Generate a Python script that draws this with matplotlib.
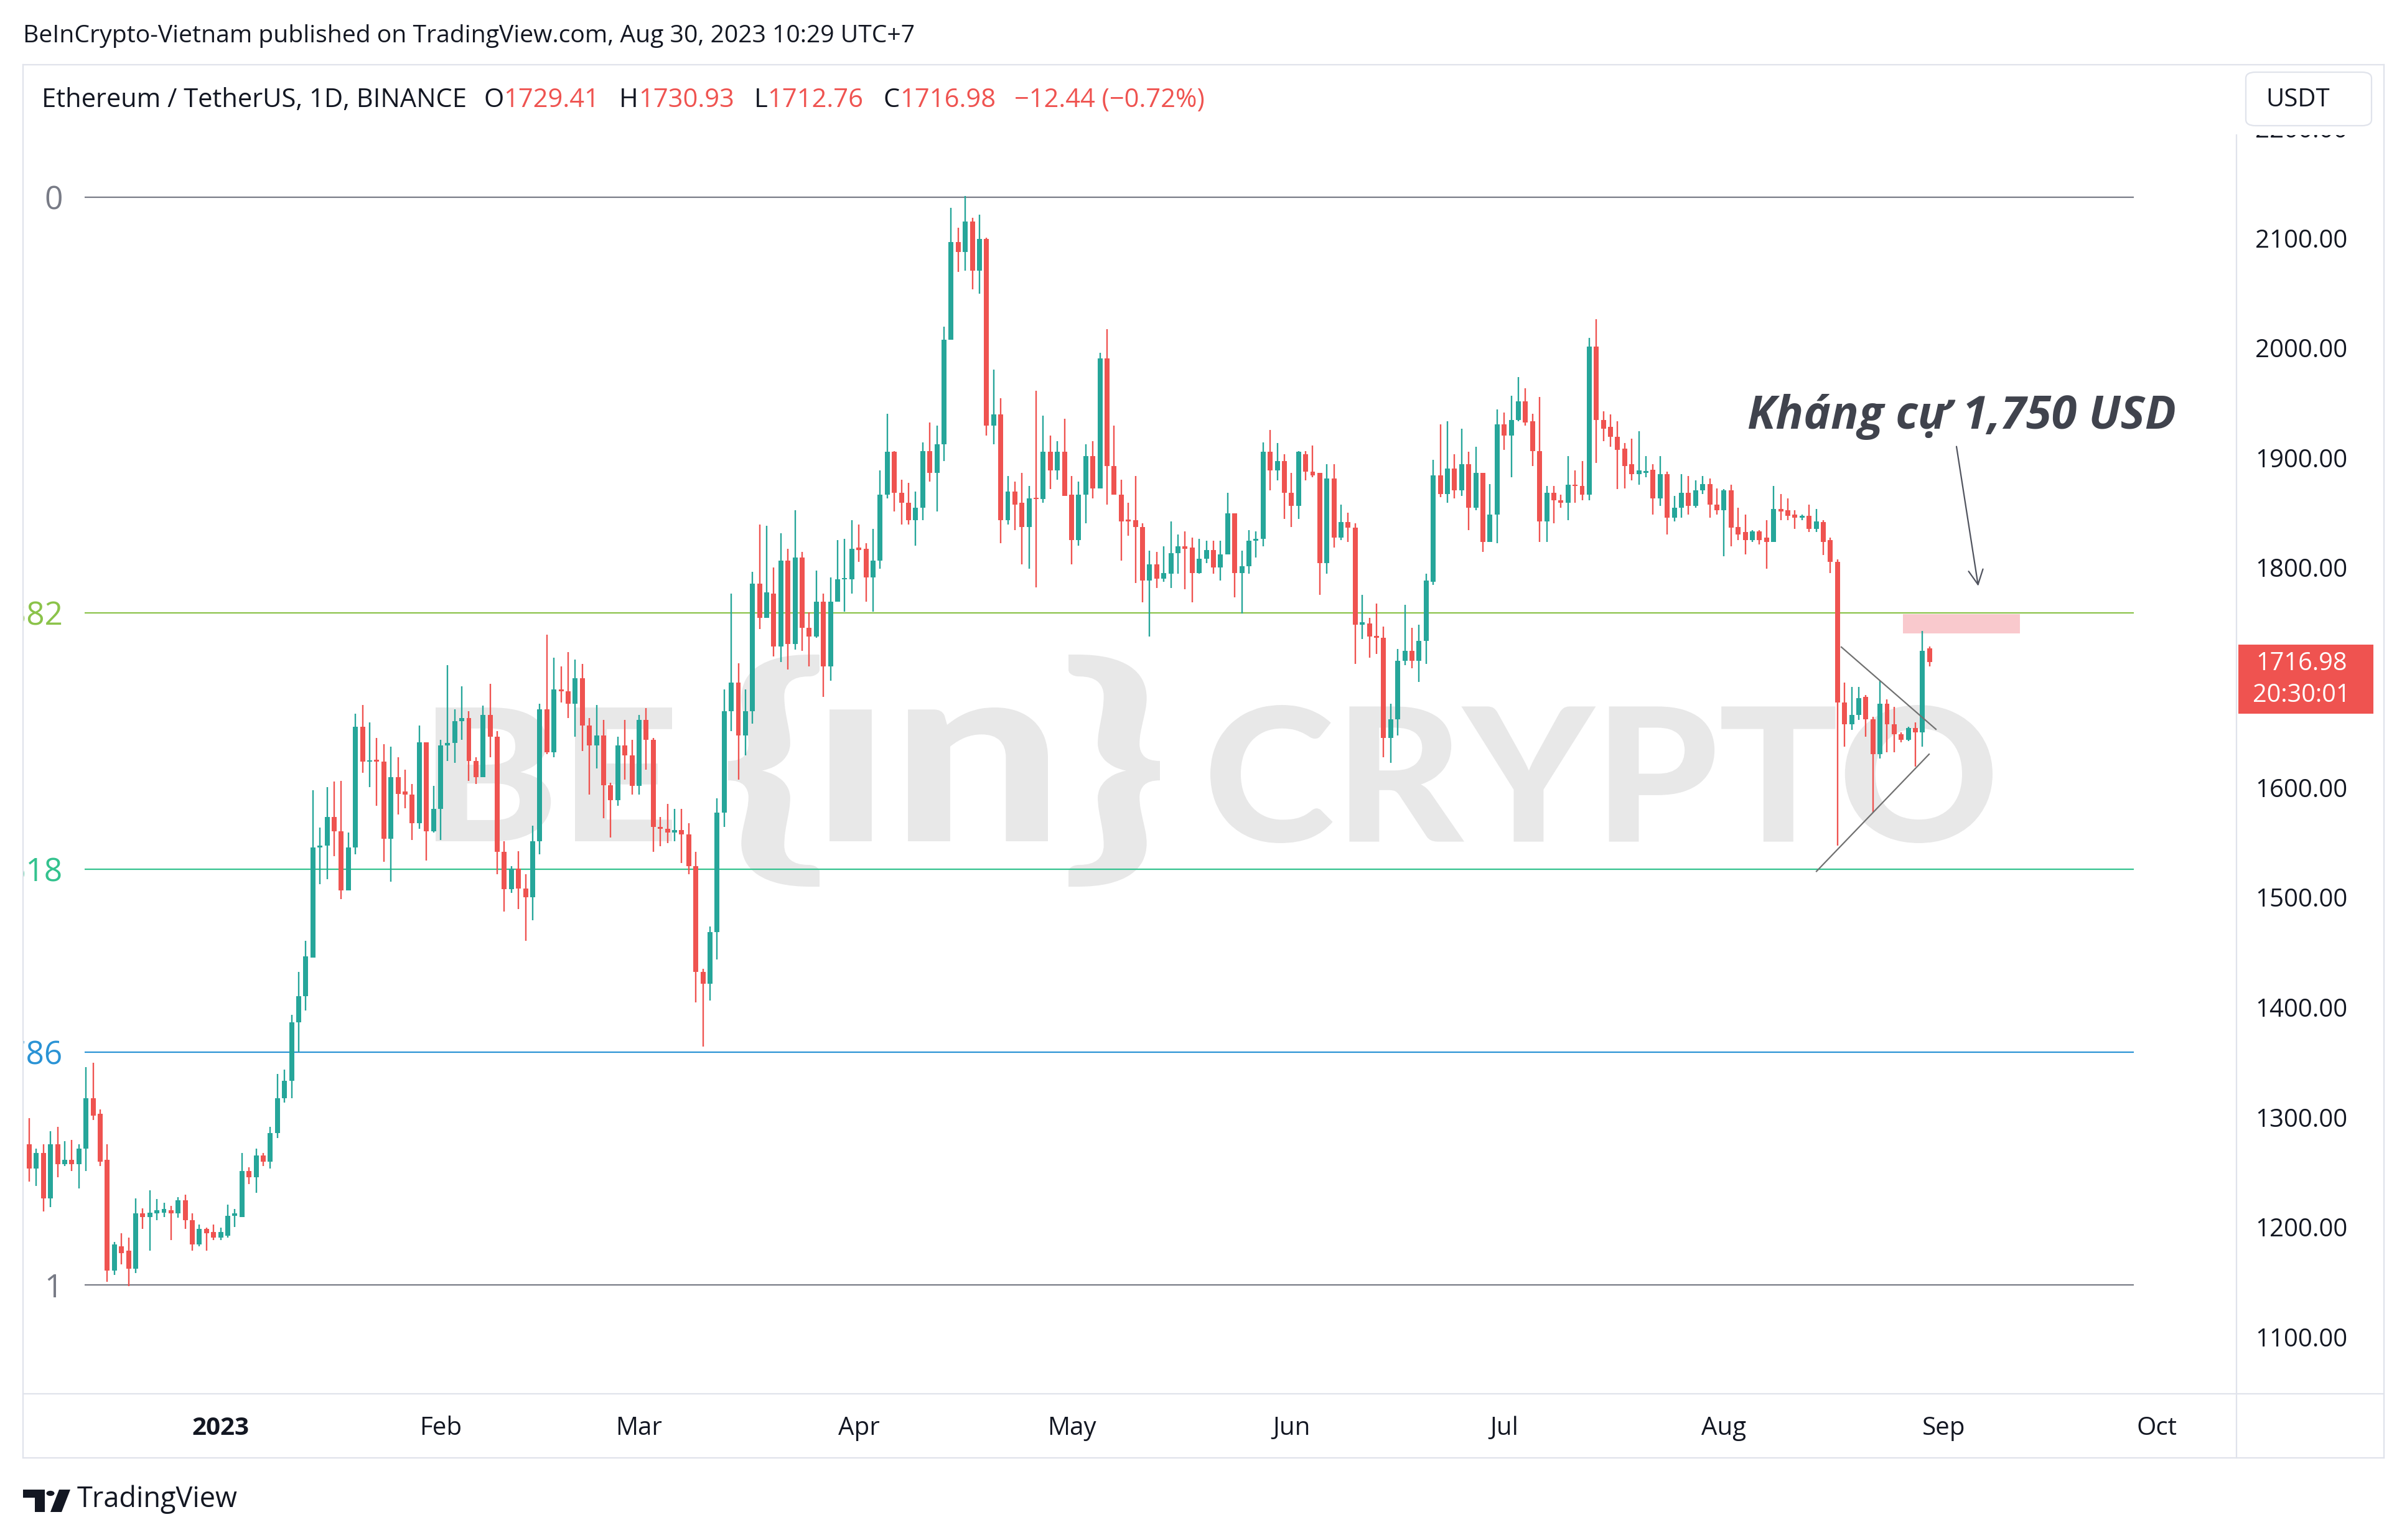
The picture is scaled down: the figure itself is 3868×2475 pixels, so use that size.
import numpy as np
import pandas as pd
import matplotlib
matplotlib.use("Agg")
import matplotlib.pyplot as plt
import matplotlib.transforms as mtransforms
from matplotlib.patches import Rectangle, FancyBboxPatch, PathPatch, Circle, Polygon
from matplotlib.textpath import TextPath
from matplotlib.font_manager import FontProperties

# ---------------------------------------------------------------- data
start_date = "2022-12-05"
opens = [1278,1256,1270,1229,1278,1260,1264,1260,1274,1320,
         1306,1264,1163,1185,1181,1165,1215,1212,1215,1216,
         1218,1215,1227,1209,1187,1201,1198,1193,1195,1213,
         1212,1254,1248,1268,1262,1288,1320,1336,1389,1413,
         1448,1548,1550,1576,1563,1509,1548,1658,1626,1628,
         1626,1556,1612,1599,1596,1570,1644,1563,1583,1641,
         1643,1663,1666,1627,1612,1669,1649,1544,1510,1529,
         1511,1503,1554,1674,1635,1692,1690,1679,1702,1659,
         1641,1650,1605,1591,1641,1632,1604,1664,1646,1567,
         1565,1562,1564,1560,1531,1435,1424,1471,1580,1672,
         1698,1650,1672,1788,1757,1779,1731,1809,1733,1812,
         1748,1740,1772,1713,1772,1792,1792,1821,1820,1794,
         1809,1869,1908,1871,1862,1846,1857,1909,1889,1915,
         2010,2099,2090,2118,2073,2102,1932,1942,1846,1872,
         1862,1840,1866,1865,1908,1891,1908,1869,1828,1869,
         1904,1875,1993,1895,1869,1846,1846,1840,1791,1806,
         1793,1797,1816,1822,1821,1798,1811,1819,1803,1815,
         1852,1798,1804,1827,1829,1908,1891,1900,1871,1859,
         1906,1890,1889,1807,1884,1830,1844,1839,1751,1752,
         1740,1739,1648,1665,1718,1727,1718,1736,1790,1887,
         1870,1893,1873,1897,1857,1889,1826,1851,1933,1923,
         1937,1954,1936,1909,1845,1871,1864,1862,1878,1877,
         1869,2004,1937,1931,1922,1911,1897,1888,1889,1892,
         1866,1888,1848,1857,1871,1859,1873,1879,1860,1855,
         1873,1840,1835,1828,1836,1830,1826,1856,1855,1851,
         1848,1850,1838,1844,1828,1808,1680,1660,1669,1685,
         1665,1633,1679,1660,1651,1646,1657,1653,1729.41]
highs = [1302,1274,1278,1290,1294,1281,1282,1278,1348,1352,
         1310,1278,1189,1197,1193,1229,1220,1236,1228,1225,
         1222,1230,1232,1215,1205,1202,1205,1202,1223,1219,
         1270,1257,1274,1270,1294,1342,1346,1396,1435,1463,
         1600,1566,1603,1608,1609,1562,1670,1678,1662,1648,
         1642,1640,1630,1619,1606,1659,1644,1604,1646,1714,
         1674,1695,1672,1630,1677,1697,1654,1554,1531,1545,
         1524,1568,1679,1742,1721,1713,1726,1719,1715,1666,
         1678,1664,1607,1649,1664,1646,1669,1675,1648,1576,
         1588,1583,1583,1570,1544,1438,1476,1593,1692,1779,
         1716,1692,1799,1842,1841,1803,1834,1820,1855,1817,
         1762,1800,1779,1794,1828,1829,1846,1842,1825,1838,
         1891,1943,1909,1883,1880,1872,1917,1935,1932,2022,
         2130,2112,2141,2121,2124,2103,1983,1957,1886,1881,
         1889,1877,1964,1941,1923,1918,1938,1886,1881,1915,
         1918,1998,2020,1932,1883,1862,1886,1843,1818,1817,
         1822,1845,1833,1836,1830,1829,1827,1827,1827,1871,
         1852,1818,1837,1836,1917,1928,1916,1906,1889,1909,
         1909,1914,1889,1897,1897,1860,1853,1843,1778,1757,
         1770,1749,1679,1729,1769,1748,1751,1797,1901,1933,
         1936,1906,1929,1908,1913,1889,1879,1947,1944,1959,
         1976,1966,1943,1958,1877,1877,1869,1904,1891,1900,
         2012,2029,1945,1942,1936,1916,1920,1927,1904,1897,
         1904,1890,1868,1888,1886,1882,1886,1884,1875,1874,
         1878,1857,1851,1837,1837,1846,1877,1870,1866,1855,
         1851,1860,1856,1846,1830,1810,1698,1694,1694,1687,
         1667,1700,1683,1676,1653,1658,1662,1745,1730.93]
lows = [1244,1240,1217,1221,1248,1258,1254,1238,1254,1300,
        1258,1153,1159,1169,1149,1161,1201,1181,1209,1212,
        1191,1211,1201,1181,1185,1181,1191,1191,1193,1203,
        1212,1242,1234,1258,1256,1284,1316,1320,1362,1400,
        1448,1515,1519,1540,1501,1509,1542,1616,1603,1586,
        1535,1517,1578,1584,1555,1565,1536,1562,1555,1627,
        1625,1646,1609,1606,1612,1630,1524,1490,1507,1492,
        1463,1482,1542,1633,1630,1680,1666,1649,1636,1596,
        1620,1575,1557,1586,1610,1596,1596,1619,1544,1549,
        1552,1554,1534,1524,1407,1367,1409,1446,1567,1654,
        1610,1632,1661,1747,1757,1722,1717,1710,1728,1727,
        1713,1739,1685,1700,1772,1763,1779,1808,1772,1763,
        1802,1866,1854,1842,1842,1823,1846,1881,1854,1900,
        2010,2072,2073,2056,2052,1923,1915,1825,1842,1837,
        1806,1802,1785,1862,1874,1883,1868,1806,1823,1843,
        1866,1875,1860,1869,1809,1832,1789,1771,1740,1784,
        1790,1784,1797,1783,1771,1797,1807,1797,1791,1815,
        1776,1761,1797,1812,1822,1873,1882,1847,1840,1847,
        1882,1885,1778,1797,1821,1828,1826,1715,1738,1721,
        1724,1630,1625,1650,1714,1711,1699,1715,1787,1867,
        1862,1866,1868,1837,1855,1817,1826,1825,1910,1885,
        1936,1932,1895,1826,1826,1843,1857,1846,1862,1864,
        1864,1898,1918,1913,1874,1875,1882,1878,1885,1851,
        1859,1833,1845,1848,1851,1857,1870,1848,1851,1813,
        1822,1828,1815,1826,1824,1802,1826,1846,1846,1838,
        1846,1835,1835,1814,1798,1550,1640,1655,1664,1649,
        1580,1629,1635,1635,1644,1645,1622,1640,1712.76]
closes = [1256,1270,1229,1278,1260,1264,1260,1274,1320,1304,
          1262,1163,1187,1179,1165,1215,1212,1216,1218,1219,
          1215,1227,1209,1187,1201,1197,1193,1198,1213,1215,
          1254,1248,1268,1262,1288,1320,1336,1389,1413,1449,
          1548,1550,1576,1563,1509,1548,1658,1626,1627,1626,
          1556,1612,1597,1596,1570,1644,1563,1583,1641,1643,
          1663,1666,1627,1612,1669,1649,1544,1510,1529,1511,
          1503,1554,1674,1635,1692,1690,1679,1702,1659,1641,
          1650,1605,1591,1641,1632,1604,1664,1646,1567,1565,
          1562,1564,1560,1531,1435,1424,1471,1580,1672,1698,
          1650,1672,1788,1757,1780,1731,1809,1733,1812,1748,
          1740,1772,1713,1772,1792,1793,1820,1819,1794,1809,
          1869,1908,1871,1862,1846,1857,1909,1889,1915,2010,
          2099,2090,2118,2073,2102,1932,1942,1846,1872,1860,
          1840,1866,1865,1908,1891,1908,1868,1828,1869,1904,
          1875,1993,1895,1869,1845,1845,1840,1791,1806,1793,
          1798,1816,1822,1820,1798,1811,1819,1803,1815,1852,
          1798,1804,1827,1829,1908,1891,1900,1871,1859,1908,
          1890,1887,1807,1884,1830,1844,1839,1751,1753,1740,
          1739,1648,1665,1718,1727,1718,1736,1791,1887,1870,
          1893,1873,1897,1857,1889,1826,1851,1933,1923,1937,
          1954,1935,1909,1845,1871,1864,1862,1878,1877,1869,
          2004,1937,1929,1922,1910,1895,1888,1891,1890,1866,
          1888,1848,1857,1871,1859,1873,1879,1860,1855,1873,
          1839,1833,1828,1836,1828,1826,1856,1854,1850,1848,
          1850,1838,1845,1826,1808,1680,1660,1669,1684,1665,
          1633,1679,1660,1651,1646,1657,1653,1727,1716.98]

price_ticks = [1100, 1200, 1300, 1400, 1500, 1600, 1700, 1800, 1900, 2000, 2100, 2200]
month_starts = ["2023-01-01", "2023-02-01", "2023-03-01", "2023-04-01", "2023-05-01",
                "2023-06-01", "2023-07-01", "2023-08-01", "2023-09-01", "2023-10-01"]
month_labels = ["2023", "Feb", "Mar", "Apr", "May", "Jun", "Jul", "Aug", "Sep", "Oct"]

fib_high, fib_low = 2140.0, 1150.0
fib_levels = [0, 0.382, 0.618, 0.786, 1]
fib_labels = ["0", "0.382", "0.618", "0.786", "1"]
fib_colors = ["#787b86", "#8bc34a", "#33c28e", "#2a93d5", "#787b86"]

last_price = 1716.98
countdown = "20:30:01"
header = "BeInCrypto-Vietnam published on TradingView.com, Aug 30, 2023 10:29 UTC+7"
annot_text = "Kháng cự 1,750 USD"

# ---------------------------------------------------------------- layout helpers
W, H, DPI = 3868, 2475, 100
plt.rcParams["font.family"] = ["Open Sans", "DejaVu Sans"]
DARK = "#131722"
GREEN = "#26a69a"
RED = "#ef5350"
BORDER = "#e0e3eb"

fig = plt.figure(figsize=(W / DPI, H / DPI), dpi=DPI, facecolor="white")
renderer = fig.canvas.get_renderer()

def fx(px):
    return px / W

def fy(py):
    return 1 - py / H

# plot area (pixels): x 37..3594, y 104..2240
PL, PR, PT, PB = 37, 3594, 104, 2240
X0, DX = 47.0, 11.395          # pixel x of first candle, pixels per day
Y2100, PXU = 387.3, 1.7662     # pixel y of 2100, pixels per USD

def price_at(py):
    return 2100 - (py - Y2100) / PXU

def idx_at(px):
    return (px - X0) / DX

ax = fig.add_axes([fx(PL), fy(PB), (PR - PL) / W, (PB - PT) / H])
ax.set_xlim(idx_at(PL), idx_at(PR))
ax.set_ylim(price_at(PB), price_at(PT))
ax.axis("off")

dates = pd.date_range(start_date, periods=len(closes), freq="D")
x = np.arange(len(closes))
o = np.array(opens); h = np.array(highs); l = np.array(lows); c = np.array(closes)
up = c >= o
cols = np.where(up, GREEN, RED)

# ---------------------------------------------------------------- watermark
wm_prop = FontProperties(family=["Lato", "DejaVu Sans"], weight="black")
def fit_text_path(s, x0, y0, x1, y1, color="#e8e8e8", z=0.5):
    tp = TextPath((0, 0), s, size=100, prop=wm_prop)
    bb = tp.get_extents()
    tr = (mtransforms.Affine2D().translate(-bb.x0, -bb.y0)
          .scale((x1 - x0) / bb.width, (y1 - y0) / bb.height)
          .translate(x0, H - y1).scale(1 / W, 1 / H))
    p = tr.transform_path(tp)
    ax.add_patch(PathPatch(p, transform=fig.transFigure, facecolor=color,
                           edgecolor="none", zorder=z))

fit_text_path("BE", 700, 1137, 1080, 1352)
fit_text_path("{", 1170, 1052, 1317, 1425)
fit_text_path("ın", 1333, 1137, 1684, 1352)
fit_text_path("}", 1717, 1052, 1864, 1425)
fit_text_path("CRYPTO", 1945, 1133, 3202, 1355)

# ---------------------------------------------------------------- fib lines
fib_x0, fib_x1 = idx_at(136), idx_at(3429)
for lev, lab, col in zip(fib_levels, fib_labels, fib_colors):
    p = fib_high - lev * (fib_high - fib_low)
    ax.plot([fib_x0, fib_x1], [p, p], color=col, lw=1.6, zorder=1, solid_capstyle="butt")
    ax.text((101 - PL) / (PR - PL), p, lab, transform=ax.get_yaxis_transform(),
            ha="right", va="center_baseline", color=col, fontsize=37, clip_on=True, zorder=3)

# ---------------------------------------------------------------- candles
ax.vlines(x, l, h, colors=cols, lw=1.7, zorder=2)
body_bot = np.minimum(o, c)
body_h = np.maximum(np.abs(c - o), 1.4)
ax.bar(x, body_h, bottom=body_bot, width=0.7, color=cols, linewidth=0, zorder=2.1)

# ---------------------------------------------------------------- drawings
# resistance box
box_i0, box_i1, box_p0, box_p1 = idx_at(3058), idx_at(3246), 1743.0, 1760.5
ax.add_patch(Rectangle((box_i0, box_p0), box_i1 - box_i0, box_p1 - box_p0,
                       facecolor="#f9c9cd", edgecolor="none", zorder=1.5))
# triangle
ax.plot([idx_at(2959), idx_at(3111)], [1730.5, 1655.7], color="#707070", lw=1.6, zorder=3)
ax.plot([idx_at(2919), idx_at(3100)], [1526.4, 1633.0], color="#707070", lw=1.6, zorder=3)
# arrow + text
ax.annotate("", xy=(idx_at(3179), 1786), xytext=(idx_at(3144), 1913),
            arrowprops=dict(arrowstyle="->", color="#50535e", lw=1.6, mutation_scale=42,
                            shrinkA=0, shrinkB=0), zorder=4)
ax.text(idx_at(2808), price_at(689), annot_text, ha="left", va="baseline",
        fontsize=53.3, fontstyle="italic", fontweight="bold", color="#40434d", zorder=4)

# ---------------------------------------------------------------- price scale
PY_TOP = 217
axp = fig.add_axes([fx(PR), fy(PB), (3831 - PR) / W, (PB - PY_TOP) / H])
axp.set_xlim(0, 1)
axp.set_ylim(price_at(PB), price_at(PY_TOP))
axp.axis("off")
for t in price_ticks:
    axp.text(0.44, t, f"{t:.2f}", ha="center", va="center", fontsize=29,
             color=DARK, clip_on=True)
# last price label
lp_top = last_price + (1063.8 - 1036) / PXU
lp_bot = last_price - (1147 - 1063.8) / PXU
axp.add_patch(Rectangle((0.013, lp_bot), 0.915, lp_top - lp_bot, facecolor=RED,
                        edgecolor="none", zorder=3))
axp.text(0.44, last_price - (1067 - 1063.8) / PXU, f"{last_price:.2f}", ha="center",
         va="center", fontsize=28.5, color="white", zorder=4)
axp.text(0.44, last_price - (1118 - 1063.8) / PXU, countdown, ha="center", va="center",
         fontsize=28.5, color="white", zorder=4)

# ---------------------------------------------------------------- time scale
for d, lab in zip(month_starts, month_labels):
    i = (pd.Timestamp(d) - dates[0]).days
    ax.text(i, (PB - 2296) / (PB - PT), lab, transform=ax.get_xaxis_transform(),
            ha="center", va="center", fontsize=29, color=DARK,
            fontweight="bold" if lab == "2023" else "normal", clip_on=False)

# ---------------------------------------------------------------- frame
def hline(y, x0, x1, col=BORDER, lw=1.6):
    fig.add_artist(plt.Line2D([fx(x0), fx(x1)], [fy(y), fy(y)], color=col, lw=lw))
def vline(xp, y0, y1, col=BORDER, lw=1.6):
    fig.add_artist(plt.Line2D([fx(xp), fx(xp)], [fy(y0), fy(y1)], color=col, lw=lw))
hline(104, 37, 3831); hline(2343, 37, 3831); hline(2240, 37, 3831)
vline(37, 104, 2343); vline(3831, 104, 2343); vline(3594, 217, 2343)

# USDT button
fig.add_artist(FancyBboxPatch((fx(3609), fy(202)), (3811 - 3609) / W, (202 - 116) / H,
                              boxstyle="round,pad=0,rounding_size=0.004",
                              transform=fig.transFigure, facecolor="white",
                              edgecolor=BORDER, lw=1.6))
fig.text(fx(3693), fy(161), "USDT", ha="center", va="center", fontsize=29, color=DARK)

# ---------------------------------------------------------------- header texts
fig.text(fx(37), fy(68), header, ha="left", va="baseline", fontsize=28.2, color=DARK)

pieces = [("Ethereum / TetherUS, 1D, BINANCE", DARK, 27), ("O", DARK, 0),
          ("1729.41", RED, 32), ("H", DARK, 0), ("1730.93", RED, 32),
          ("L", DARK, 0), ("1712.76", RED, 32), ("C", DARK, 0),
          ("1716.98", RED, 30), ("\u221212.44 (\u22120.72%)", RED, 0)]
xcur = 67
for s, col, gap in pieces:
    t = fig.text(fx(xcur), fy(172), s, ha="left", va="baseline", fontsize=30, color=col)
    bb = t.get_window_extent(renderer)
    xcur = bb.x1 + gap

# ---------------------------------------------------------------- footer logo
logo_col = "#131722"
fig.add_artist(Polygon([(fx(37), fy(2394)), (fx(72), fy(2394)), (fx(72), fy(2430)),
                        (fx(56), fy(2430)), (fx(56), fy(2407)), (fx(37), fy(2407))],
                       closed=True, transform=fig.transFigure, facecolor=logo_col, edgecolor="none"))
fig.add_artist(Circle((fx(81), fy(2400)), 6.5 / W, transform=fig.transFigure,
                      facecolor=logo_col, edgecolor="none"))
fig.add_artist(Polygon([(fx(95), fy(2394)), (fx(113), fy(2394)), (fx(99), fy(2430)),
                        (fx(81), fy(2430))], closed=True, transform=fig.transFigure,
                       facecolor=logo_col, edgecolor="none"))
fig.text(fx(124), fy(2422), "TradingView", ha="left", va="baseline", fontsize=32.5, color=DARK)

fig.savefig("out.png", dpi=DPI, facecolor="white")
